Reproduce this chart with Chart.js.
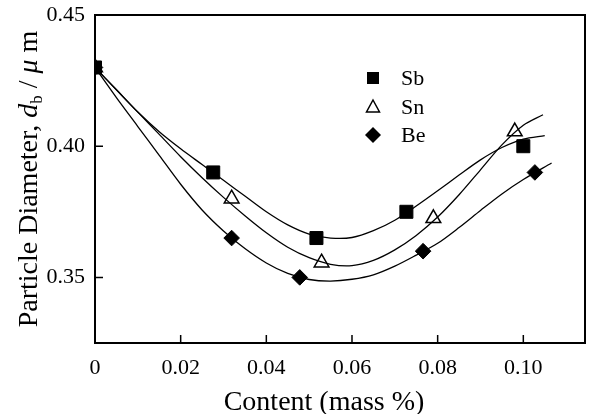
<!DOCTYPE html>
<html><head><meta charset="utf-8">
<script src="https://cdn.jsdelivr.net/npm/chart.js@4/dist/chart.umd.min.js"></script>
<style>html,body{margin:0;padding:0;background:#fff;overflow:hidden}canvas{display:block}</style>
</head><body><canvas id="c" width="590" height="414" style="width:590px;height:414px"></canvas>
<script>
const seriesNames = ['Sb', 'Sn', 'Be'];
// measured points
const sbX = [0, 0.0276, 0.0517, 0.0727, 0.100];
const sbY = [0.430, 0.390, 0.365, 0.375, 0.400];
const snX = [0, 0.0319, 0.0529, 0.079, 0.098];
const snY = [0.430, 0.380, 0.3556, 0.3725, 0.4056];
const beX = [0, 0.0319, 0.0478, 0.0766, 0.1027];
const beY = [0.430, 0.365, 0.350, 0.360, 0.390];
// fitted curves
const sbFitX = [0, 0.005, 0.010, 0.015, 0.020, 0.025, 0.030, 0.035, 0.040, 0.045, 0.050, 0.055, 0.060, 0.065, 0.070, 0.075, 0.080, 0.085, 0.090, 0.095, 0.100, 0.105];
const sbFitY = [0.430, 0.4215, 0.4130, 0.4055, 0.3990, 0.3930, 0.3870, 0.3810, 0.3750, 0.3700, 0.3665, 0.3650, 0.3652, 0.3678, 0.3718, 0.3772, 0.3830, 0.3890, 0.3948, 0.3995, 0.4027, 0.4040];
const snFitX = [0, 0.005, 0.010, 0.015, 0.020, 0.025, 0.030, 0.035, 0.040, 0.045, 0.050, 0.055, 0.060, 0.065, 0.070, 0.075, 0.080, 0.085, 0.090, 0.095, 0.100, 0.1046];
const snFitY = [0.430, 0.4215, 0.4130, 0.4045, 0.3960, 0.3880, 0.3805, 0.3735, 0.3670, 0.3615, 0.3575, 0.3550, 0.3545, 0.3565, 0.3605, 0.3660, 0.3730, 0.3815, 0.3910, 0.4005, 0.4080, 0.4120];
const beFitX = [0, 0.005, 0.010, 0.015, 0.020, 0.025, 0.030, 0.035, 0.040, 0.045, 0.050, 0.055, 0.060, 0.065, 0.070, 0.075, 0.080, 0.085, 0.090, 0.095, 0.100, 0.1066];
const beFitY = [0.430, 0.4185, 0.4075, 0.3965, 0.3855, 0.3757, 0.3677, 0.3610, 0.3555, 0.3515, 0.3492, 0.3486, 0.3493, 0.3510, 0.3543, 0.3585, 0.3630, 0.3690, 0.3755, 0.3818, 0.3873, 0.3936];
const xTicks = [0, 0.02, 0.04, 0.06, 0.08, 0.10];
const yTicks = [0.35, 0.40, 0.45];
const xTitle = 'Content (mass %)';

const SERIF = "'Liberation Serif', 'Times New Roman', serif";
const pts = (xs, ys) => xs.map((v, i) => ({x: v, y: ys[i]}));

function fitDs(xs, ys) {
  return {data: pts(xs, ys), showLine: true, pointRadius: 0, pointHoverRadius: 0,
    borderColor: '#000', borderWidth: 1.3, tension: 0.3, fill: false};
}
function markDs(label, xs, ys, style, r, bg) {
  return {label, data: pts(xs, ys), showLine: false, pointStyle: style, pointRadius: r,
    pointHoverRadius: r, backgroundColor: bg, borderColor: '#000', pointBorderWidth: style === 'triangle' ? 1.5 : 1};
}
function noPad(s) { s.paddingTop = 0; s.paddingBottom = 0; s.paddingLeft = 0; s.paddingRight = 0; }

const decor = {
  id: 'decor',
  beforeDatasetsDraw(chart) {
    const {ctx, chartArea: a, scales: {x, y}} = chart;
    ctx.save();
    ctx.strokeStyle = '#000';
    ctx.lineWidth = 2;
    ctx.strokeRect(a.left, a.top, a.right - a.left, a.bottom - a.top);
    ctx.lineWidth = 1.5;
    ctx.beginPath();
    xTicks.forEach(v => { const px = x.getPixelForValue(v); ctx.moveTo(px, a.bottom); ctx.lineTo(px, a.bottom - 8); });
    yTicks.forEach(v => { const py = y.getPixelForValue(v); ctx.moveTo(a.left, py); ctx.lineTo(a.left + 8, py); });
    ctx.stroke();
    ctx.restore();
  },
  afterDraw(chart) {
    const {ctx, chartArea: a} = chart;
    ctx.save();
    ctx.fillStyle = '#000';
    ctx.font = '28px ' + SERIF;
    ctx.textAlign = 'center';
    ctx.textBaseline = 'alphabetic';
    ctx.fillText(xTitle, 324, 410);
    const segs = [
      {t: 'Particle Diameter, ', f: '28px ' + SERIF, dy: 0},
      {t: 'd', f: 'italic 28px ' + SERIF, dy: 0},
      {t: 'b', f: '17px ' + SERIF, dy: 5},
      {t: ' / ', f: '28px ' + SERIF, dy: 0},
      {t: 'μ', f: 'italic 28px ' + SERIF, dy: 0},
      {t: ' m', f: '28px ' + SERIF, dy: 0}
    ];
    let total = 0;
    segs.forEach(s => { ctx.font = s.f; s.w = ctx.measureText(s.t).width; total += s.w; });
    ctx.translate(37, (a.top + a.bottom) / 2);
    ctx.rotate(-Math.PI / 2);
    ctx.textAlign = 'left';
    let cx = -total / 2;
    segs.forEach(s => { ctx.font = s.f; ctx.fillText(s.t, cx, s.dy); cx += s.w; });
    ctx.restore();
    ctx.save();
    const lx = 373, ly = [78, 107, 135];
    ctx.fillStyle = '#000'; ctx.strokeStyle = '#000';
    ctx.fillRect(lx - 6, ly[0] - 6, 12, 12);
    ctx.beginPath();
    ctx.moveTo(lx, ly[1] - 7); ctx.lineTo(lx + 6.5, ly[1] + 5); ctx.lineTo(lx - 6.5, ly[1] + 5); ctx.closePath();
    ctx.fillStyle = '#fff'; ctx.fill(); ctx.lineWidth = 1.5; ctx.stroke();
    ctx.beginPath();
    ctx.moveTo(lx, ly[2] - 8); ctx.lineTo(lx + 8, ly[2]); ctx.lineTo(lx, ly[2] + 8); ctx.lineTo(lx - 8, ly[2]); ctx.closePath();
    ctx.fillStyle = '#000'; ctx.fill();
    ctx.font = '22px ' + SERIF;
    ctx.textAlign = 'left'; ctx.textBaseline = 'middle';
    seriesNames.forEach((n, i) => ctx.fillText(n, 401, ly[i] + 1));
    ctx.restore();
  }
};

new Chart(document.getElementById('c'), {
  type: 'scatter',
  data: {datasets: [
    fitDs(sbFitX, sbFitY), fitDs(snFitX, snFitY), fitDs(beFitX, beFitY),
    markDs(seriesNames[0], sbX, sbY, 'rect', 9.2, '#000'),
    markDs(seriesNames[1], snX, snY, 'triangle', 8.5, '#fff'),
    markDs(seriesNames[2], beX, beY, 'rectRot', 7.8, '#000')
  ]},
  options: {
    responsive: false, maintainAspectRatio: false, animation: false, devicePixelRatio: 1,
    layout: {autoPadding: false, padding: {top: 15, right: 5, left: 0, bottom: 0}},
    plugins: {legend: {display: false}, tooltip: {enabled: false}},
    scales: {
      x: {type: 'linear', min: 0, max: 0.1144,
        grid: {display: false, drawTicks: false}, border: {display: false},
        afterBuildTicks: s => { s.ticks = xTicks.map(v => ({value: v})); },
        afterFit: s => { s.height = 71; noPad(s); },
        ticks: {color: '#000', padding: 12, maxRotation: 0, autoSkip: false,
          font: {family: SERIF, size: 22},
          callback: v => v === 0 ? '0' : Number(v).toFixed(2)}},
      y: {type: 'linear', min: 0.325, max: 0.45,
        grid: {display: false, drawTicks: false}, border: {display: false},
        afterBuildTicks: s => { s.ticks = yTicks.map(v => ({value: v})); },
        afterFit: s => { s.width = 95; noPad(s); },
        ticks: {color: '#000', padding: 10, autoSkip: false,
          font: {family: SERIF, size: 22},
          callback: v => Number(v).toFixed(2)}}
    }
  },
  plugins: [decor]
});
</script></body></html>
